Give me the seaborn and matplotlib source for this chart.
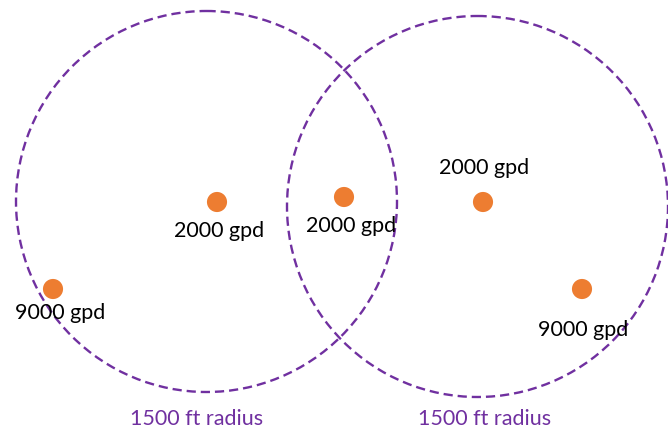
import numpy as np
import pandas as pd
import seaborn as sns
from matplotlib import pyplot as plt
from matplotlib.patches import Circle

sns.set_theme(style="white")
plt.rcParams['font.family'] = ['Lato', 'DejaVu Sans']

# Wells (pixel-like layout units, y grows downwards)
well_x = [217, 344, 483, 53, 582]
well_y = [202, 197, 202, 289, 289]
well_labels = ["2000 gpd", "2000 gpd", "2000 gpd", "9000 gpd", "9000 gpd"]
label_x = [219, 351, 484, 60, 583]
label_y = [231, 226, 168, 313, 330]

# Radius circles
circle_x = [206.5, 477.5]
circle_y = [201.5, 206.5]
circle_r = [190.5, 190.5]
radius_text = ["1500 ft radius", "1500 ft radius"]
radius_text_x = [197, 485]
radius_text_y = [419, 419]

ORANGE = "#ED7D31"
PURPLE = "#7030A0"

fig = plt.figure(figsize=(6.68, 4.36), dpi=100)
ax = fig.add_axes([0, 0, 1, 1])

for cx, cy, r in zip(circle_x, circle_y, circle_r):
    ax.add_patch(Circle((cx, cy), r, fill=False, edgecolor=PURPLE,
                        linewidth=1.7, linestyle=(0, (3.9, 2.1))))

wells = pd.DataFrame({"x": well_x, "y": well_y})
sns.scatterplot(data=wells, x="x", y="y", ax=ax, s=210, color=ORANGE,
                edgecolor="none", zorder=3)

for tx, ty, txt in zip(label_x, label_y, well_labels):
    ax.text(tx, ty, txt, ha="center", va="center", fontsize=15.5,
            color="black", zorder=4)

for tx, ty, txt in zip(radius_text_x, radius_text_y, radius_text):
    ax.text(tx, ty, txt, ha="center", va="center", fontsize=15.5,
            color=PURPLE)

ax.set_xlim(0, 668)
ax.set_ylim(436, 0)
ax.set_axis_off()

fig.savefig("out.png", dpi=100)
